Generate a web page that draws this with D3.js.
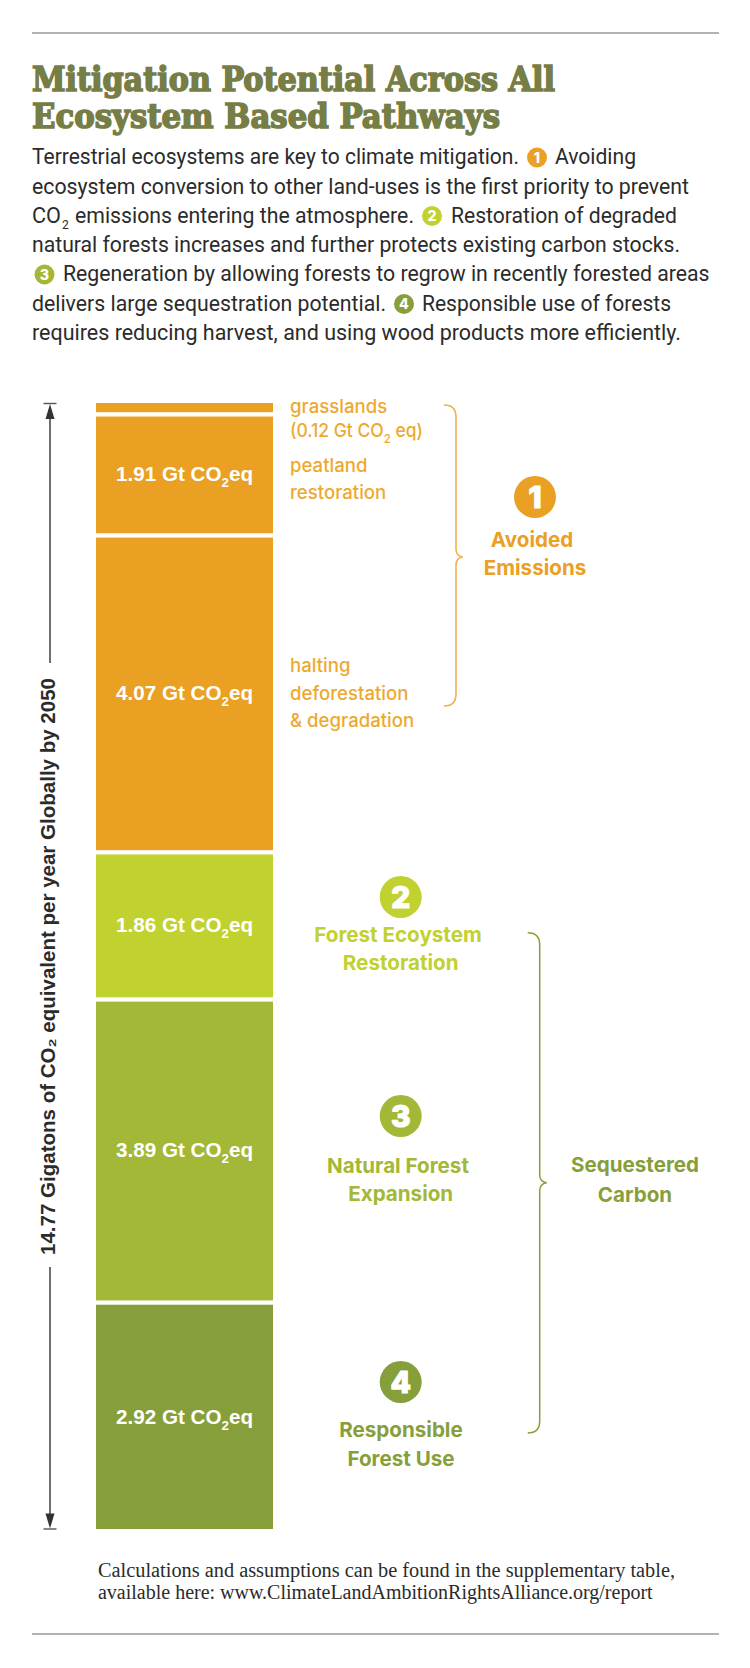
<!DOCTYPE html>
<html>
<head>
<meta charset="utf-8">
<script src="https://d3js.org/d3.v7.min.js"></script>
<style>
  html, body { margin: 0; padding: 0; background: white; }
  svg { display: block; }
  .lbl { font-family: Inter, "Noto Sans", sans-serif; }
  .body { font-family: Roboto, sans-serif; font-size: 21.5px; fill: #2b2b2b; }
</style>
</head>
<body>
<svg id="chart" width="750" height="1668"></svg>
<script>
// bar labels as printed, and the bar sizes
// (the peatland bar is printed 1.91 but drawn shorter than that)
var categories = ["grasslands", "peatland", "halting", "forest restoration", "natural expansion", "forest use"];
var drawnValues = [0.12, 1.52, 4.07, 1.86, 3.89, 2.92];
var printedLabels = [null, "1.91", "4.07", "1.86", "3.89", "2.92"];
var barColors = ["#eaa023", "#eaa023", "#eaa023", "#c1d12f", "#a3b836", "#879f3a"];
var labelBaselines = [null, 481, 700, 932, 1157, 1424];

var titleLines = ["Mitigation Potential Across All", "Ecosystem Based Pathways"];
var axisTitle = "14.77 Gigatons of CO\u2082 equivalent per year Globally by 2050";
var footnotes = ["Calculations and assumptions can be found in the supplementary table,",
                 "available here: www.ClimateLandAmbitionRightsAlliance.org/report"];

var svg = d3.select("#chart");
var orange = "#eaa023", lime = "#c1d12f", mid = "#a3b836", dark = "#879f3a";

// ---- rules
[33, 1634].forEach(function(y) {
  svg.append("line").attr("x1", 32).attr("x2", 719).attr("y1", y).attr("y2", y)
    .attr("stroke", "#9a9a9a").attr("stroke-width", 1.5);
});

// ---- title
[[91, 523], [128, 468]].forEach(function(p, i) {
  svg.append("text").text(titleLines[i])
    .attr("x", 32).attr("y", p[0])
    .attr("textLength", p[1]).attr("lengthAdjust", "spacingAndGlyphs")
    .style("font-family", "'DejaVu Serif'").style("font-weight", 700)
    .style("font-size", "33px")
    .attr("fill", "#767d45").attr("stroke", "#767d45").attr("stroke-width", 1.6);
});

// ---- intro paragraph, run by run so the numbered dots sit in the text
function run(str, x, x2, y) {
  return svg.append("text").attr("class", "body").text(str)
    .attr("x", x).attr("y", y)
    .attr("textLength", x2 - x).attr("lengthAdjust", "spacingAndGlyphs");
}
run("Terrestrial ecosystems are key to climate mitigation.", 32, 519, 164);
run("Avoiding", 555, 636, 164);
run("ecosystem conversion to other land-uses is the first priority to prevent", 32, 689, 193.5);
run("CO", 32, 61, 222.7);
svg.append("text").attr("class", "body").text("2").attr("x", 62).attr("y", 229).style("font-size", "12px");
run("emissions entering the atmosphere.", 75, 414, 222.7);
run("Restoration of degraded", 451, 677, 222.7);
run("natural forests increases and further protects existing carbon stocks.", 32, 680, 252);
run("Regeneration by allowing forests to regrow in recently forested areas", 63, 709.5, 281.3);
run("delivers large sequestration potential.", 32, 386, 311);
run("Responsible use of forests", 422, 671, 311);
run("requires reducing harvest, and using wood products more efficiently.", 32, 681, 340.3);

// numbered dot, used small in the paragraph and big beside the bars
function badge(n, cx, cy, r, color) {
  svg.append("circle").attr("cx", cx).attr("cy", cy).attr("r", r).attr("fill", color);
  svg.append("text").text(n).attr("class", "lbl")
    .attr("x", cx).attr("y", cy + r * 0.5)
    .attr("text-anchor", "middle")
    .style("font-weight", 800).style("font-size", (r * 1.42) + "px")
    .attr("fill", "white").attr("stroke", "white").attr("stroke-width", r > 15 ? 1.2 : 0);
}
badge(1, 537, 157.5, 10, orange);
badge(2, 432, 216, 10, lime);
badge(3, 44.5, 274.5, 10, mid);
badge(4, 404, 304, 10, dark);

// ---- stacked bar
var gap = 4.3, barLeft = 96, barRight = 273, barTop = 403, barBottom = 1529;
var y = d3.scaleLinear().domain([0, d3.sum(drawnValues)]).range([barTop, barBottom - gap * (drawnValues.length - 1)]);
var cum = d3.cumsum(drawnValues);

svg.append("g").selectAll("rect").data(drawnValues).join("rect")
  .attr("x", barLeft).attr("width", barRight - barLeft)
  .attr("y", function(d, i) { return y(cum[i] - d) + i * gap; })
  .attr("height", function(d) { return y(d) - y(0); })
  .attr("fill", function(d, i) { return barColors[i]; })
  .attr("data-name", function(d, i) { return categories[i]; });

// text with a lowered 2 in CO2
function co2(sel, before, after, size) {
  sel.append("tspan").text(before);
  sel.append("tspan").text("2").attr("dy", size * 0.3).style("font-size", (size * 0.65) + "px");
  sel.append("tspan").text(after).attr("dy", -size * 0.3);
}
printedLabels.forEach(function(v, i) {
  if (!v) return;
  var t = svg.append("text")
    .attr("x", 116).attr("y", labelBaselines[i])
    .attr("textLength", 137).attr("lengthAdjust", "spacingAndGlyphs")
    .style("font-family", "'Liberation Sans'")
    .style("font-weight", 700).style("font-size", "19.5px").attr("fill", "white");
  co2(t, v + " Gt CO", "eq", 19.5);
});

// ---- vertical arrow with end caps
var ax = 50;
function shaft(y1, y2) {
  svg.append("line").attr("x1", ax).attr("x2", ax).attr("y1", y1).attr("y2", y2)
    .attr("stroke", "#333").attr("stroke-width", 1.4);
}
shaft(barTop + 14, 663);
shaft(1267, barBottom - 14);
svg.append("path").attr("d", "M" + (ax - 6.5) + "," + (barTop + 0.5) + "H" + (ax + 6.5)).attr("stroke", "#555").attr("stroke-width", 1.4);
svg.append("path").attr("d", "M" + (ax - 6.5) + "," + barBottom + "H" + (ax + 6.5)).attr("stroke", "#555").attr("stroke-width", 1.4);
svg.append("path").attr("d", "M" + ax + "," + (barTop + 1) + "l-4.5,15h9z").attr("fill", "#333");
svg.append("path").attr("d", "M" + ax + "," + (barBottom - 0.5) + "l-4.5,-15h9z").attr("fill", "#333");

svg.append("text").text(axisTitle)
  .attr("transform", "translate(55,1255) rotate(-90)")
  .attr("textLength", 577).attr("lengthAdjust", "spacingAndGlyphs")
  .style("font-family", "'Liberation Sans'")
  .style("font-weight", 700).style("font-size", "19.5px").attr("fill", "#2b2b2b");

// ---- thin orange labels next to the bar
function thin(str, yy) {
  return svg.append("text").attr("class", "lbl").text(str).attr("x", 290).attr("y", yy)
    .style("font-weight", 500).style("font-size", "18.6px").attr("fill", "#eda92f");
}
thin("grasslands", 413);
var g = thin("", 437).attr("textLength", 133).attr("lengthAdjust", "spacingAndGlyphs");
co2(g, "(0.12 Gt CO", " eq)", 18.6);
thin("peatland", 472);
thin("restoration", 499);
thin("halting", 672);
thin("deforestation", 700);
thin("& degradation", 727);

// ---- bold group labels
function head(str, cx, yy, color) {
  svg.append("text").attr("class", "lbl").text(str).attr("x", cx).attr("y", yy)
    .attr("text-anchor", "middle").style("font-weight", 700).style("font-size", "20.6px").attr("fill", color);
}
badge(1, 535, 497, 21, orange);
head("Avoided", 532, 547, orange);
head("Emissions", 535, 575, orange);
badge(2, 400.7, 897, 21, lime);
head("Forest Ecoystem", 398, 942, lime);
head("Restoration", 400.7, 970, lime);
badge(3, 400.7, 1116, 21, mid);
head("Natural Forest", 398, 1172.7, mid);
head("Expansion", 400.7, 1201, mid);
badge(4, 400.7, 1382, 21, dark);
head("Responsible", 401, 1437, dark);
head("Forest Use", 401, 1466, dark);
head("Sequestered", 635, 1171.7, dark);
head("Carbon", 635, 1202, dark);

// ---- curly brackets
function brace(x0, x1, tipX, y0, tipY, y1, color) {
  var r = 12;
  var d = "M" + x0 + "," + y0 +
    "Q" + x1 + "," + y0 + " " + x1 + "," + (y0 + r) +
    "V" + (tipY - 8) + "Q" + x1 + "," + (tipY - 1) + " " + tipX + "," + tipY +
    "Q" + x1 + "," + (tipY + 1) + " " + x1 + "," + (tipY + 8) +
    "V" + (y1 - r) + "Q" + x1 + "," + y1 + " " + x0 + "," + y1;
  svg.append("path").attr("d", d).attr("fill", "none").attr("stroke", color).attr("stroke-width", 1.5);
}
brace(444, 456, 462.7, 405, 557, 706, "#eeae45");
brace(527.7, 539.7, 546.7, 932.7, 1182.7, 1433, dark);

// ---- footnote
[[1577, 577], [1599, 554.6]].forEach(function(p, i) {
  svg.append("text").text(footnotes[i]).attr("x", 98).attr("y", p[0])
    .attr("textLength", p[1]).attr("lengthAdjust", "spacingAndGlyphs")
    .style("font-family", "'Liberation Serif'").style("font-size", "20px").attr("fill", "#2b2b2b");
});
</script>
</body>
</html>
